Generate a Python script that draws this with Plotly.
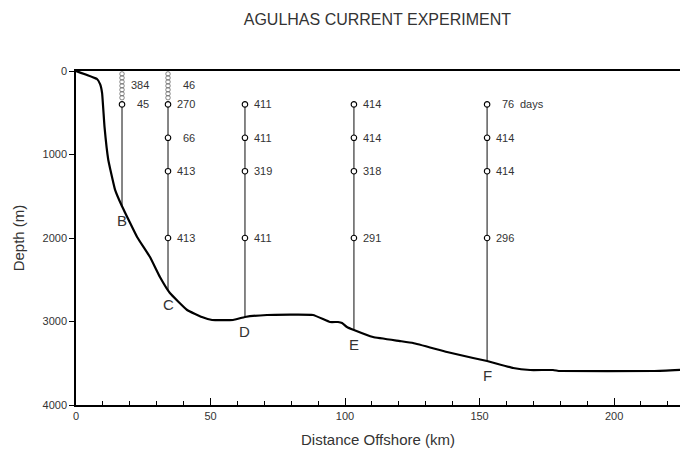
import numpy as np
import plotly.graph_objects as go

# Bathymetry profile (distance offshore km, depth m)
bath_km = [0, 7.8, 9.0, 9.7, 10.6, 12.0, 12.8, 14.5, 17.1, 22.7, 27.5, 31.2, 34.9, 41.3, 46.8, 50.6,
           58.4, 62.8, 71, 88.1, 94.4, 97.4, 98.9, 100.7, 103.3, 110.4, 120.4, 125.3,
           137.9, 147.6, 152.8, 162.5, 168.8, 177.3, 179.9, 215, 224.5]
bath_depth = [0, 96, 160, 264, 670, 1066, 1186, 1420, 1620, 1988, 2228, 2467, 2659, 2862, 2946, 2982,
              2982, 2946, 2922, 2922, 3006, 3006, 3018, 3066, 3102, 3186, 3234, 3258,
              3365, 3437, 3473, 3557, 3581, 3581, 3593, 3593, 3580]

# Moorings
mooring_names = ["B", "C", "D", "E", "F"]
mooring_km = [17.1, 34.2, 62.8, 103.3, 152.8]
instrument_depths = {
    "B": [400],
    "C": [400, 800, 1200, 2000],
    "D": [400, 800, 1200, 2000],
    "E": [400, 800, 1200, 2000],
    "F": [400, 800, 1200, 2000],
}
record_days = {
    "B": [45],
    "C": [270, 66, 413, 413],
    "D": [411, 411, 319, 411],
    "E": [414, 414, 318, 291],
    "F": [76, 414, 414, 296],
}
# upward-looking instruments (spring symbol) above moorings
spring_moorings = ["B", "C"]
spring_days = [384, 46]
spring_label_depth = 170

TXT = "#333333"
FONT = "Liberation Sans"
fig = go.Figure()

bottom = {n: float(np.interp(k, bath_km, bath_depth)) for n, k in zip(mooring_names, mooring_km)}

# mooring lines
for n, k in zip(mooring_names, mooring_km):
    top = instrument_depths[n][0]
    fig.add_trace(go.Scatter(x=[k, k], y=[top, bottom[n]], mode="lines",
                             line=dict(color="#444444", width=1.3),
                             hoverinfo="skip", showlegend=False))

# bathymetry
fig.add_trace(go.Scatter(x=bath_km, y=bath_depth, mode="lines",
                         line=dict(color="black", width=2.2, shape="spline", smoothing=0.3),
                         hoverinfo="skip", showlegend=False))

# instruments
for n, k in zip(mooring_names, mooring_km):
    d = instrument_depths[n]
    fig.add_trace(go.Scatter(x=[k] * len(d), y=d, mode="markers",
                             marker=dict(symbol="circle", size=5.5, color="white",
                                         line=dict(color="black", width=1.1)),
                             hoverinfo="skip", showlegend=False))
    for depth, days in zip(d, record_days[n]):
        fig.add_annotation(x=k, y=depth, text=str(days), showarrow=False,
                           xanchor="right", yanchor="middle", xshift=29,
                           font=dict(size=11, color=TXT, family=FONT))
    # mooring letter
    fig.add_annotation(x=k, y=bottom[n], text=n, showarrow=False,
                       xanchor="center", yanchor="top", yshift=-4,
                       font=dict(size=15, color=TXT, family=FONT))

# "days" unit after first F label
fig.add_annotation(x=mooring_km[-1], y=instrument_depths["F"][0], text="days",
                   showarrow=False, xanchor="left", yanchor="middle", xshift=31,
                   font=dict(size=11, color=TXT, family=FONT))

# springs (coil symbol drawn as stacked small open rings)
spring_y = np.linspace(35, 320, 7)
for n, days in zip(spring_moorings, spring_days):
    k = mooring_km[mooring_names.index(n)]
    fig.add_trace(go.Scatter(x=[k] * len(spring_y), y=spring_y, mode="markers",
                             marker=dict(symbol="circle-open", size=4.5,
                                         color="#666666", line=dict(width=0.8)),
                             hoverinfo="skip", showlegend=False))
    fig.add_annotation(x=k, y=spring_label_depth, text=str(days), showarrow=False,
                       xanchor="right", yanchor="middle", xshift=29,
                       font=dict(size=11, color=TXT, family=FONT))

fig.update_layout(
    width=680, height=454,
    margin=dict(l=76, r=0, t=71, b=49),
    paper_bgcolor="white", plot_bgcolor="white",
    title=dict(text="AGULHAS CURRENT EXPERIMENT", x=0.555, xanchor="center",
               y=0.957, yanchor="middle",
               font=dict(size=16, color=TXT, family=FONT)),
    font=dict(family=FONT, color=TXT),
)
fig.update_xaxes(range=[0, 224.5], showgrid=False, zeroline=False,
                 showline=True, linecolor="black", linewidth=1.5, mirror=True,
                 ticks="inside", ticklen=7, tickwidth=1, tickcolor="black",
                 dtick=50, tick0=0,
                 minor=dict(dtick=10, ticks="inside", ticklen=4, tickcolor="black", tickwidth=1),
                 tickfont=dict(size=11, color=TXT),
                 title=dict(text="Distance Offshore (km)", font=dict(size=15, color=TXT),
                            standoff=14))
fig.update_yaxes(range=[4000, 0], showgrid=False, zeroline=False,
                 showline=True, linecolor="black", linewidth=1.5,
                 ticks="outside", ticklen=5, tickwidth=1, tickcolor="black",
                 dtick=1000, tick0=0,
                 tickfont=dict(size=11, color=TXT),
                 title=dict(text="Depth (m)", font=dict(size=15, color=TXT), standoff=14))

fig.write_html("out.html")
